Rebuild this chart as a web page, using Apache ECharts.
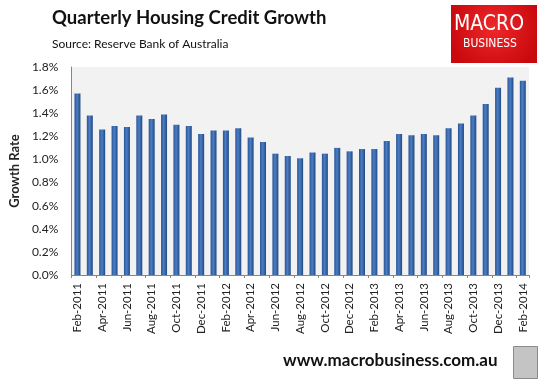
<!DOCTYPE html>
<html><head><meta charset="utf-8">
<script src="https://cdn.jsdelivr.net/npm/echarts@6/dist/echarts.min.js"></script>
<style>html,body{margin:0;padding:0;background:#fff}#c{width:543px;height:382px}</style>
</head><body><div id="c"></div>
<script>
const categories = ["Feb-2011","Mar-2011","Apr-2011","May-2011","Jun-2011","Jul-2011","Aug-2011","Sep-2011","Oct-2011","Nov-2011","Dec-2011","Jan-2012",
"Feb-2012","Mar-2012","Apr-2012","May-2012","Jun-2012","Jul-2012","Aug-2012","Sep-2012","Oct-2012","Nov-2012","Dec-2012","Jan-2013",
"Feb-2013","Mar-2013","Apr-2013","May-2013","Jun-2013","Jul-2013","Aug-2013","Sep-2013","Oct-2013","Nov-2013","Dec-2013","Jan-2014","Feb-2014"];
const growth = [1.57,1.38,1.26,1.29,1.28,1.38,1.35,1.39,1.30,1.29,1.22,1.25,
1.25,1.27,1.19,1.15,1.05,1.03,1.01,1.06,1.05,1.10,1.07,1.09,
1.09,1.16,1.22,1.21,1.22,1.21,1.27,1.31,1.38,1.48,1.62,1.71,1.68];
const yTicks = {min:0, max:1.8, interval:0.2};
const titleText = "Quarterly Housing Credit Growth";
const subtitleText = "Source: Reserve Bank of Australia";
const yAxisName = "Growth Rate";
const footerText = "www.macrobusiness.com.au";

const chart = echarts.init(document.getElementById('c'), null, {renderer:'canvas'});
const font = 'Lato, "Open Sans", sans-serif';
const narrow = '"Liberation Sans Narrow", "DejaVu Sans Condensed", sans-serif';
chart.setOption({
  animation:false,
  backgroundColor:'#fff',
  grid:{left:63, right:14, top:67, bottom:107, show:true, backgroundColor:'#F2F2F2', borderWidth:0},
  xAxis:{type:'category', data:categories, boundaryGap:true,
    axisLine:{lineStyle:{color:'#868686', width:1}},
    axisTick:{show:true, interval:1, length:3, lineStyle:{color:'#868686'}},
    axisLabel:{interval:1, rotate:90, fontFamily:font, fontSize:11.5, color:'#222', margin:8}
  },
  yAxis:{type:'value', min:yTicks.min, max:yTicks.max, interval:yTicks.interval,
    name:yAxisName, nameLocation:'middle', nameGap:45, nameRotate:90,
    nameTextStyle:{fontFamily:font, fontSize:13, fontWeight:'bold', color:'#222'},
    axisLine:{show:true, lineStyle:{color:'#868686', width:1}},
    axisTick:{show:false},
    splitLine:{show:false},
    axisLabel:{formatter:v=>v.toFixed(1)+'%', fontFamily:font, fontSize:12, color:'#222', margin:13}
  },
  series:[{type:'bar', data:growth, barWidth:6,
    itemStyle:{color:new echarts.graphic.LinearGradient(0,0,1,0,[
      {offset:0,color:'#2A5494'},{offset:0.45,color:'#4A7EC6'},{offset:1,color:'#23497F'}])}
  }],
  graphic:[
    {type:'text', left:52, top:9, style:{text:titleText, font:'bold 18.5px '+font, fill:'#111'}},
    {type:'text', left:52, top:38, style:{text:subtitleText, font:'12px '+font, fill:'#111'}},
    {type:'rect', left:451, top:5, shape:{width:86, height:58},
      style:{fill:new echarts.graphic.RadialGradient(0.5,0.4,0.8,[{offset:0,color:'#F0282A'},{offset:1,color:'#C8090E'}])}},
    {type:'text', x:489, y:14, style:{text:'MACRO', font:'21px '+narrow, fill:'#fff', align:'center'}},
    {type:'text', x:490, y:38, style:{text:'BUSINESS', font:'12px '+narrow, fill:'#fff', align:'center'}},
    {type:'text', left:283, top:352, style:{text:footerText, font:'bold 17px '+font, fill:'#111'}},
    {type:'rect', left:513, top:346, shape:{width:24, height:32},
      style:{fill:'#C4C4C4', stroke:'#8a8a8a', lineWidth:1}}
  ]
});
</script></body></html>
